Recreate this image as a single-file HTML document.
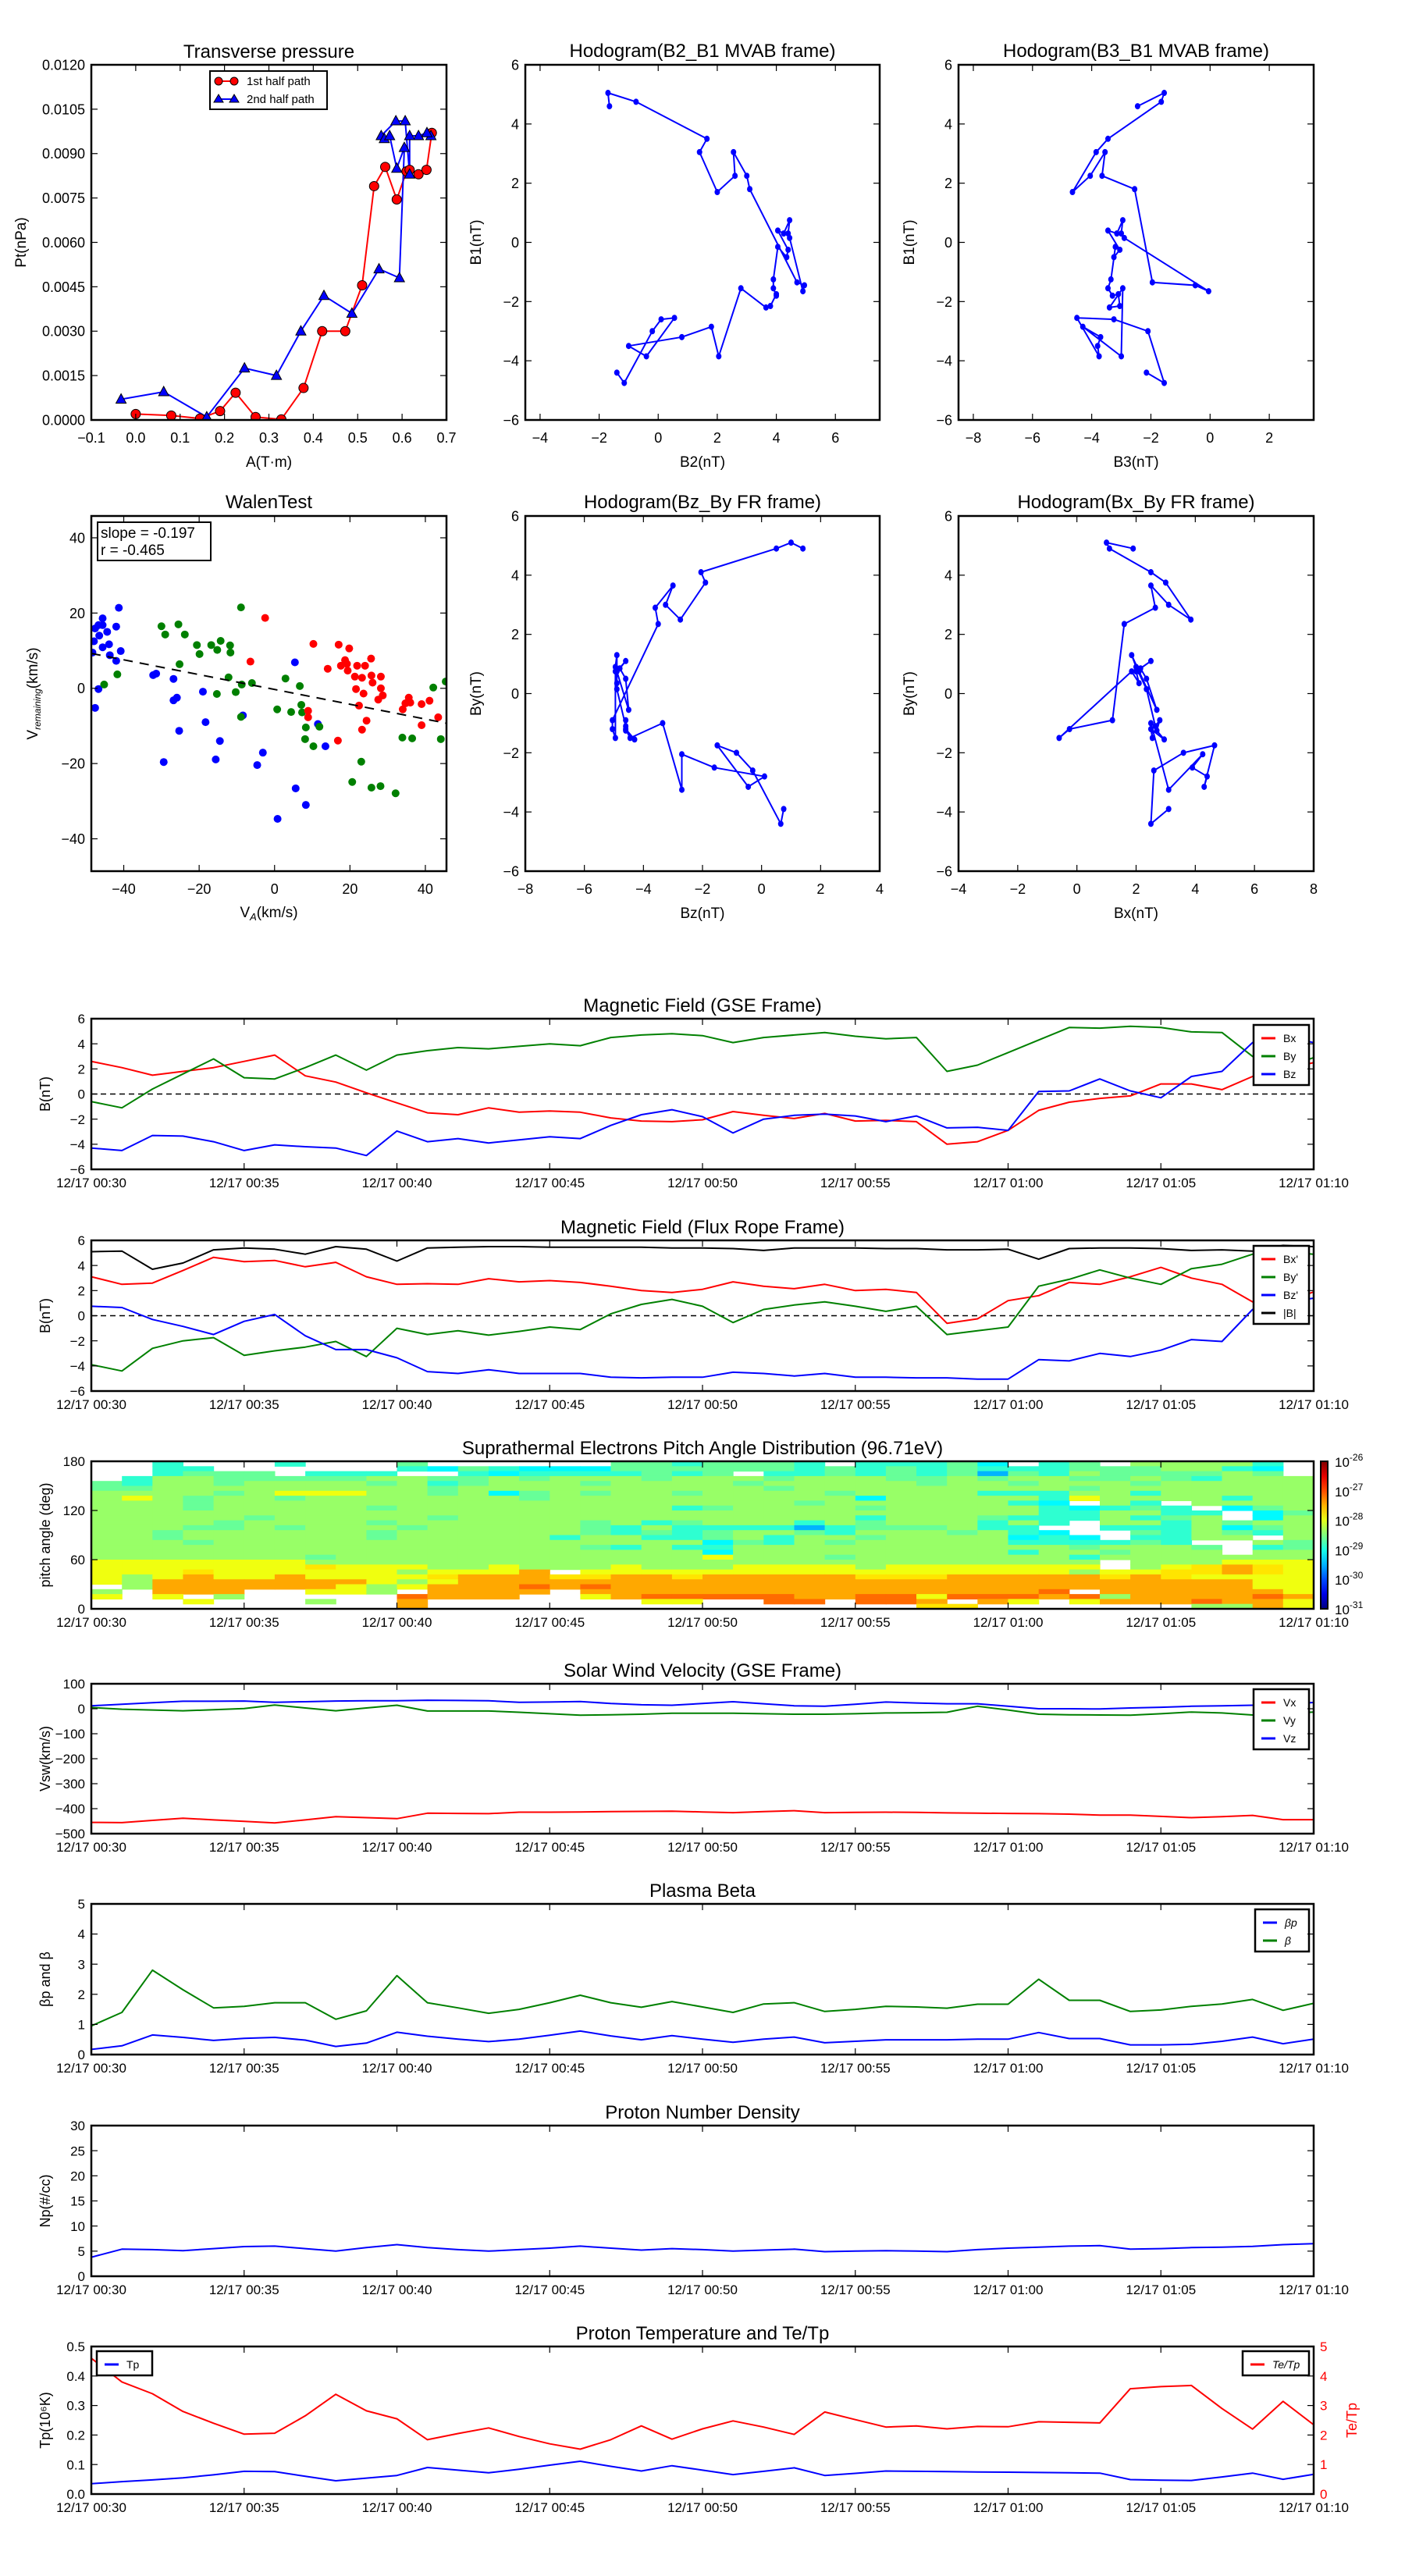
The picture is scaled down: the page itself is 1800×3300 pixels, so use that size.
<!DOCTYPE html>
<html><head><meta charset="utf-8"><title>Flux rope analysis</title>
<style>
html,body{margin:0;padding:0;background:#fff;}
svg{display:block;font-family:"Liberation Sans","DejaVu Sans",sans-serif;}
</style></head>
<body>
<svg id="chart" width="1800" height="3300" viewBox="0 0 1800 3300" xmlns="http://www.w3.org/2000/svg"><rect x="0" y="0" width="1800" height="3300" fill="#fff"/></svg>
<script>
// ---------------- data ----------------
const tpA1=[0.0,0.08,0.145,0.19,0.225,0.27,0.328,0.378,0.42,0.472,0.51,0.537,0.562,0.588,0.61,0.617,0.637,0.655,0.667];
const tpP1=[0.0002,0.00015,0.00005,0.0003,0.00092,0.0001,0.00002,0.00108,0.003,0.003,0.00455,0.0079,0.00855,0.00745,0.0084,0.00845,0.0083,0.00845,0.0097];
const tpA2=[0.665,0.656,0.637,0.617,0.617,0.607,0.586,0.553,0.56,0.572,0.588,0.605,0.594,0.548,0.487,0.424,0.372,0.317,0.245,0.16,0.063,-0.033];
const tpP2=[0.0096,0.0097,0.0096,0.0096,0.0083,0.0101,0.0101,0.0096,0.0095,0.0096,0.0085,0.0092,0.0048,0.0051,0.0036,0.0042,0.003,0.0015,0.00175,0.0001,0.00095,0.0007];

const mvB1=[4.6,5.05,4.75,3.5,3.05,1.7,2.25,3.05,2.25,1.8,-1.35,-1.45,-1.65,0.15,0.3,0.75,0.3,0.4,-0.25,-0.5,-0.15,-1.25,-1.55,-1.8,-1.75,-2.15,-2.2,-1.55,-3.85,-2.85,-3.2,-3.5,-3.85,-2.55,-2.6,-3.0,-4.75,-4.4];
const mvB2=[-1.65,-1.7,-0.75,1.65,1.4,2.0,2.6,2.55,3.0,3.1,4.7,4.95,4.9,4.45,4.4,4.45,4.25,4.05,4.4,4.35,4.05,3.9,3.9,4.0,4.0,3.8,3.65,2.8,2.05,1.8,0.8,-1.0,-0.4,0.55,0.1,-0.2,-1.15,-1.4];
const mvB3=[-2.45,-1.55,-1.65,-3.45,-3.85,-4.65,-4.05,-3.55,-3.65,-2.55,-1.95,-0.5,-0.05,-2.9,-3.0,-2.95,-3.15,-3.45,-3.05,-3.25,-3.2,-3.35,-3.45,-3.3,-3.1,-3.05,-3.4,-2.95,-3.0,-4.3,-3.7,-3.8,-3.75,-4.5,-3.25,-2.1,-1.55,-2.15];

const walenBlueX=[-47.6,-46.7,-47.9,-45.6,-45.6,-46.5,-44.4,-45.6,-43.9,-43.7,-42,-41.3,-40.8,-42,-48.3,-46.7,-47.6,-32.2,-31.4,-26.8,-26.8,-25.9,-25.3,-29.4,-19,-18.3,-14.5,-15.6,-8.4,-4.6,-3.1,0.8,5.4,5.6,8.3,11.5,13.5];
const walenBlueY=[15.9,16.8,12.5,18.6,16.8,14,15,10.9,11.7,8.8,16.4,21.4,9.9,7.3,9.5,-0.2,-5.2,3.5,3.9,2.5,-3.2,-2.5,-11.3,-19.6,-0.9,-9,-14,-18.9,-7.2,-20.4,-17.1,-34.7,6.9,-26.6,-31,-9.5,-15.4];
const walenGreenX=[-8.9,-30,-29,-25.5,-23.8,-25.2,-20.6,-19.9,-16.8,-15.2,-14.3,-11.8,-11.7,-12.2,-15.3,-10.3,-8.7,-6,-8.9,-41.7,-45.2,0.7,2.9,4.4,6.7,7.1,7.3,8.3,11.9,8.1,10.3,23,20.6,25.7,28.1,32.1,33.9,36.5,42.1,45.4,44.1];
const walenGreenY=[21.5,16.5,14.3,17,14.3,6.4,11.5,9.1,11.5,10.2,12.6,11.4,9.5,2.9,-1.5,-1,1,1.4,-7.6,3.7,1,-5.6,2.6,-6.3,0.6,-4.4,-6.4,-10.4,-10.2,-13.5,-15.4,-19.5,-24.9,-26.4,-26,-27.9,-13.1,-13.3,0.2,1.8,-13.5];
const walenRedX=[-2.5,-6.4,10.3,17,19.8,14.1,17.6,18.7,19.2,19.4,21.9,24,25.6,21.3,23.2,25.7,28.2,21.6,23.6,26,28.2,28.7,27.5,22.4,8.9,8.9,24.4,23.2,16.8,34,34.7,35.6,36,39,41.1,39,43.4];
const walenRedY=[18.7,7.1,11.8,11.6,10.6,5.2,6,7.5,6.5,4.7,6,6,7.9,3.1,2.8,3.4,3.1,-0.2,-1.4,1.5,0,-1.9,-3,-4.6,-6,-7.7,-8.6,-11,-13.9,-5.6,-4,-2.5,-3.8,-4.2,-3.3,-9.8,-7.7];
const walenSlope=-0.197, walenIntercept=-0.3;

const timeTicks=['12/17 00:30','12/17 00:35','12/17 00:40','12/17 00:45','12/17 00:50','12/17 00:55','12/17 01:00','12/17 01:05','12/17 01:10'];
const gseBx=[2.6,2.1,1.5,1.8,2.1,2.6,3.1,1.45,0.95,0.1,-0.7,-1.5,-1.65,-1.1,-1.45,-1.35,-1.45,-1.9,-2.15,-2.2,-2.05,-1.4,-1.7,-1.95,-1.55,-2.15,-2.1,-2.2,-4.0,-3.8,-2.9,-1.3,-0.65,-0.35,-0.15,0.8,0.8,0.35,1.4,2.0,2.5];
const gseBy=[-0.6,-1.1,0.4,1.6,2.8,1.3,1.2,2.1,3.1,1.9,3.1,3.45,3.7,3.6,3.8,4.0,3.85,4.5,4.7,4.8,4.65,4.1,4.5,4.7,4.9,4.6,4.4,4.5,1.8,2.3,3.3,4.3,5.3,5.25,5.4,5.3,4.95,4.9,3.0,2.1,2.9];
const gseBz=[-4.3,-4.5,-3.3,-3.35,-3.8,-4.5,-4.05,-4.2,-4.3,-4.9,-2.95,-3.8,-3.55,-3.9,-3.65,-3.4,-3.55,-2.5,-1.65,-1.25,-1.8,-3.1,-2.0,-1.7,-1.6,-1.75,-2.2,-1.75,-2.7,-2.65,-2.9,0.2,0.25,1.2,0.25,-0.3,1.4,1.8,4.1,4.6,4.1];
const frBx=[3.1,2.5,2.6,3.6,4.65,4.3,4.4,3.9,4.25,3.1,2.5,2.55,2.5,2.95,2.7,2.8,2.65,2.35,2.0,1.85,2.1,2.7,2.35,2.15,2.5,2.0,2.1,1.85,-0.6,-0.25,1.2,1.6,2.65,2.5,3.1,3.85,3.0,2.5,1.1,1.0,1.9];
const frBy=[-3.9,-4.4,-2.6,-2.0,-1.75,-3.15,-2.8,-2.5,-2.05,-3.25,-1.0,-1.5,-1.2,-1.55,-1.25,-0.9,-1.1,0.15,0.9,1.3,0.75,-0.55,0.5,0.85,1.1,0.75,0.35,0.75,-1.5,-1.2,-0.9,2.35,2.9,3.65,3.0,2.5,3.75,4.1,4.9,5.1,4.9];
const frBz=[0.75,0.65,-0.3,-0.85,-1.5,-0.45,0.1,-1.6,-2.7,-2.7,-3.35,-4.45,-4.6,-4.3,-4.6,-4.6,-4.6,-4.9,-4.95,-4.9,-4.9,-4.5,-4.6,-4.8,-4.6,-4.9,-4.9,-4.95,-4.95,-5.05,-5.05,-3.5,-3.6,-3.0,-3.25,-2.75,-1.9,-2.05,0.5,1.0,1.4];
const frBt=[5.1,5.15,3.7,4.2,5.25,5.4,5.3,4.9,5.5,5.3,4.35,5.4,5.45,5.5,5.5,5.45,5.45,5.45,5.45,5.4,5.4,5.35,5.2,5.4,5.4,5.4,5.35,5.35,5.25,5.25,5.3,4.5,5.35,5.4,5.4,5.35,5.2,5.25,5.15,5.6,5.5];

// pitch angle distribution: 30 rows (top = 174-180 deg), 40 time columns; letter = flux level
const padRows=[
"..t...t...g......ggtgggt.tttgc.tg.llllt.",
"..tt......tcgtcccggggggtgtgtgtttggglltc.",
"..tggg.ttt..tcttttgtg.ttgtgtgbgtlgggglg.",
".tllgggggllgglglllglllglllgglgllgglgtlll",
"gtllgllllgltglllgllllglllllgllglllgllll",
"gglllllllllgllllllllllglllllllllglllllll",
"llllglyyyllglcglgllgllllglllltttlltllll",
"lylgllglllllllgllllllllllcllllltylllltll",
"lllglllllllllllllllllllglllllltc.lt.lll",
"lllglllllgllllllllltgllllgllllltctgt.cgl",
"lllllllllllllllllllllllllllllllttlltt.cgl",
"lllllglllllgllllllllllllltlllgtttltgl.cl",
"llllgllllgllllllgltgllltlgllltlt.lltlgl",
"lllgglglllglllllgtlttttbtgggltt..tttlcgl",
"llgllllllgllllllgtgtgllgtlllgltc..gtlgtl",
"llgllllllgllllltllttgltllgllllctc.ttll.l",
"lllgllllllllllllllllcgtlglllllttttgt..lgl",
"llllllllllllllllgtlttlllllllllllglllg.tgl",
"llllllllllllllllllllcllllllllltllglll.ll",
"lllllllgllllllllllllylllgllllllltlllllll",
"yyyyyyyllllllllllllllllllllllllll.lllyyy",
"yyyyyyyYyyyllylllylllyyyylyyyyyyy.lyYoYy",
"yyyYyyyyyylyyyo.yyyyyyyyyyyyyyyylyyYYoYy",
"ylyoyyoyyyyYoooYYooYoooooYYYoooooYoYyyyy",
"yloooooooylyooooooooooooooooooooooooooyy",
".looooooylyooororoooooooooooooooooooooyy",
"l.ooo..yyl.oooo.ooooooooooooooor.ooooooy",
"y.y.l.....rooo..yorrrrroorryrrrorlooooro",
"...y...l..o.......yy..rr.rro.oy.yooorooy",
"..........o................YY.......lloy"];
const padLevels={b:-29.5,c:-29.15,t:-28.9,g:-28.62,l:-28.38,y:-27.95,Y:-27.75,o:-27.45,r:-27.15};

const vx=[-455,-456,-447,-438,-445,-451,-457,-445,-432,-436,-440,-418,-419,-420,-414,-414,-413,-412,-411,-410,-413,-416,-412,-408,-416,-415,-414,-415,-417,-418,-419,-420,-422,-426,-426,-431,-436,-432,-427,-444,-444];
const vy=[5,-2,-5,-8,-4,1,15,3,-8,3,14,-9,-9,-9,-14,-20,-26,-24,-22,-18,-18,-18,-20,-22,-22,-20,-17,-16,-14,10,-5,-22,-24,-25,-26,-20,-13,-17,-25,-20,-13];
const vz=[12,18,24,30,30,31,26,28,31,32,32,34,33,32,26,27,29,21,16,14,21,28,20,12,10,18,27,23,20,20,10,0,0,-1,3,6,10,12,14,18,25];
const betaP=[0.17,0.29,0.65,0.57,0.47,0.54,0.57,0.48,0.27,0.38,0.74,0.61,0.51,0.43,0.51,0.64,0.78,0.62,0.49,0.63,0.51,0.41,0.51,0.58,0.39,0.44,0.49,0.49,0.49,0.51,0.51,0.73,0.53,0.53,0.32,0.32,0.34,0.44,0.58,0.36,0.51];
const betaT=[0.95,1.4,2.8,2.15,1.55,1.6,1.72,1.72,1.17,1.45,2.62,1.72,1.55,1.37,1.5,1.72,1.97,1.72,1.57,1.76,1.58,1.4,1.68,1.72,1.43,1.5,1.6,1.58,1.54,1.67,1.67,2.5,1.8,1.8,1.43,1.48,1.6,1.68,1.83,1.47,1.7];
const np=[3.8,5.4,5.3,5.1,5.5,5.9,6.0,5.5,5.0,5.7,6.3,5.7,5.3,5.0,5.3,5.6,6.0,5.6,5.2,5.5,5.3,5.0,5.2,5.4,4.9,5.0,5.1,5.0,4.9,5.3,5.6,5.8,6.0,6.1,5.4,5.5,5.7,5.8,5.95,6.3,6.5];
const tp=[0.035,0.042,0.048,0.055,0.065,0.077,0.076,0.06,0.045,0.054,0.063,0.09,0.081,0.072,0.084,0.098,0.111,0.094,0.078,0.096,0.081,0.066,0.077,0.089,0.063,0.07,0.078,0.077,0.076,0.075,0.074,0.073,0.072,0.071,0.049,0.047,0.046,0.058,0.071,0.05,0.067];
const teTp=[4.6,3.8,3.4,2.8,2.4,2.03,2.06,2.65,3.38,2.82,2.55,1.84,2.05,2.24,1.95,1.7,1.52,1.84,2.31,1.86,2.21,2.48,2.27,2.02,2.78,2.52,2.27,2.31,2.21,2.29,2.28,2.45,2.43,2.41,3.57,3.64,3.68,2.9,2.2,3.14,2.35];

// ---------------- helpers ----------------
const NS='http://www.w3.org/2000/svg';
const svg=document.getElementById('chart');
function el(tag,attrs,parent,name){
  const e=document.createElementNS(NS,tag);
  for(const k in attrs) e.setAttribute(k,attrs[k]);
  
  
  (parent||svg).appendChild(e);
  return e;
}
function txt(x,y,s,size,anchor,name,extra,parent){
  const a=Object.assign({x:x,y:y,'font-size':size,'text-anchor':anchor||'middle',fill:'#000'},extra||{});
  const t=el('text',a,parent,name);
  t.textContent=s;
  return t;
}
function lin(d0,d1,r0,r1){return v=>r0+(v-d0)*(r1-r0)/(d1-d0);}
function fmt(v,dec){const s=Math.abs(v).toFixed(dec);return (v<0?'\u2212':'')+s;}
let clipId=0;
function frame(x0,y0,x1,y1,name){
  const g=el('g',{},svg,name);
  const id='clip'+(clipId++);
  const cp=el('clipPath',{id:id},g,name+'-clip');
  el('rect',{x:x0,y:y0,width:x1-x0,height:y1-y0},cp,name+'-clip-rect');
  const inner=el('g',{'clip-path':'url(#'+id+')'},g,name+'-plot-area');
  return {g:g,inner:inner};
}
function border(g,x0,y0,x1,y1,name){
  el('rect',{x:x0,y:y0,width:x1-x0,height:y1-y0,fill:'none',stroke:'#000','stroke-width':2.5},g,name+'-border');
}
function xTicks(g,vals,labels,sx,y0,y1,size,base,name){
  vals.forEach((v,i)=>{
    const x=sx(v);
    el('line',{x1:x,y1:y1,x2:x,y2:y1-8,stroke:'#000','stroke-width':1.2},g,name+'-xtick');
    el('line',{x1:x,y1:y0,x2:x,y2:y0+8,stroke:'#000','stroke-width':1.2},g,name+'-xtick-top');
    txt(x,y1+base,labels[i],size,'middle',name+'-xtick-label',{},g);
  });
}
function yTicks(g,vals,labels,sy,x0,x1,size,name,skipRight){
  vals.forEach((v,i)=>{
    const y=sy(v);
    el('line',{x1:x0,y1:y,x2:x0+8,y2:y,stroke:'#000','stroke-width':1.2},g,name+'-ytick');
    if(!skipRight) el('line',{x1:x1,y1:y,x2:x1-8,y2:y,stroke:'#000','stroke-width':1.2},g,name+'-ytick-right');
    txt(x0-8,y+size*0.36,labels[i],size,'end',name+'-ytick-label',{},g);
  });
}
function poly(parent,xs,ys,sx,sy,color,w,name,dash){
  const pts=xs.map((x,i)=>sx(x).toFixed(1)+','+sy(ys[i]).toFixed(1)).join(' ');
  const a={points:pts,fill:'none',stroke:color,'stroke-width':w,'stroke-linejoin':'round'};
  if(dash) a['stroke-dasharray']=dash;
  return el('polyline',a,parent,name);
}
function ylabel(x,y,s,size,name,parent,color){
  const t=txt(x,y,s,size,'middle',name,{transform:'rotate(-90 '+x+' '+y+')',fill:color||'#000'},parent);
  return t;
}
function jet(f){
  const c=v=>Math.round(255*Math.max(0,Math.min(1,v)));
  return 'rgb('+c(1.5-Math.abs(4*f-3))+','+c(1.5-Math.abs(4*f-2))+','+c(1.5-Math.abs(4*f-1))+')';
}

// ---------------- Transverse pressure ----------------
(function(){
  const X0=117,X1=572,Y0=83,Y1=538;
  const sx=lin(-0.1,0.7,X0,X1), sy=lin(0,0.012,Y1,Y0);
  const f=frame(X0,Y0,X1,Y1,'transverse-pressure-panel');
  txt((X0+X1)/2,74,'Transverse pressure',24,'middle','transverse-pressure-title',{},f.g);
  poly(f.inner,tpA1,tpP1,sx,sy,'#f00',2,'first-half-path-line');
  poly(f.inner,tpA2,tpP2,sx,sy,'#00f',2,'second-half-path-line');
  tpA1.forEach((a,i)=>{el('circle',{cx:sx(a),cy:sy(tpP1[i]),r:6,fill:'#f00',stroke:'#000','stroke-width':1},f.inner,'first-half-point');});
  tpA2.forEach((a,i)=>{const x=sx(a),y=sy(tpP2[i]);
    el('polygon',{points:(x)+','+(y-7)+' '+(x-6.5)+','+(y+5)+' '+(x+6.5)+','+(y+5),fill:'#00f',stroke:'#000','stroke-width':1},f.inner,'second-half-point');});
  border(f.g,X0,Y0,X1,Y1,'transverse-pressure');
  const xv=[-0.1,0,0.1,0.2,0.3,0.4,0.5,0.6,0.7];
  xTicks(f.g,xv,xv.map(v=>fmt(v,1)),sx,Y0,Y1,18,29,'transverse-pressure');
  const yv=[0,0.0015,0.003,0.0045,0.006,0.0075,0.009,0.0105,0.012];
  yTicks(f.g,yv,yv.map(v=>v.toFixed(4)),sy,X0,X1,18,'transverse-pressure');
  txt((X0+X1)/2,598,'A(T\u00b7m)',19,'middle','transverse-pressure-x-label',{},f.g);
  ylabel(33,(Y0+Y1)/2,'Pt(nPa)',19,'transverse-pressure-y-label',f.g);
  const lg=el('g',{},f.g,'transverse-pressure-legend');
  el('rect',{x:269,y:91,width:150,height:49,fill:'#fff',stroke:'#000','stroke-width':2},lg,'legend-box');
  el('line',{x1:280,y1:104,x2:300,y2:104,stroke:'#f00','stroke-width':2},lg,'legend-first-half-line');
  el('circle',{cx:280,cy:104,r:5,fill:'#f00',stroke:'#000'},lg,'legend-first-half-marker');
  el('circle',{cx:300,cy:104,r:5,fill:'#f00',stroke:'#000'},lg,'legend-first-half-marker');
  txt(316,109,'1st half path',15,'start','legend-first-half-label',{},lg);
  el('line',{x1:280,y1:127,x2:300,y2:127,stroke:'#00f','stroke-width':2},lg,'legend-second-half-line');
  el('polygon',{points:'280,121 274,131 286,131',fill:'#00f',stroke:'#000'},lg,'legend-second-half-marker');
  el('polygon',{points:'300,121 294,131 306,131',fill:'#00f',stroke:'#000'},lg,'legend-second-half-marker');
  txt(316,132,'2nd half path',15,'start','legend-second-half-label',{},lg);
})();

// ---------------- hodograms ----------------
function hodogram(X0,X1,Y0,Y1,xd,yd,xs,ys,xt,yt,title,xl,yl,name){
  const sx=lin(xd[0],xd[1],X0,X1), sy=lin(yd[0],yd[1],Y1,Y0);
  const f=frame(X0,Y0,X1,Y1,name);
  txt((X0+X1)/2,Y0-10,title,24,'middle',name+'-title',{},f.g);
  poly(f.inner,xs,ys,sx,sy,'#00f',2,name+'-path');
  xs.forEach((v,i)=>{el('ellipse',{cx:sx(v),cy:sy(ys[i]),rx:3.5,ry:4,fill:'#00f'},f.inner,name+'-point');});
  border(f.g,X0,Y0,X1,Y1,name);
  xTicks(f.g,xt,xt.map(v=>fmt(v,0)),sx,Y0,Y1,18,29,name);
  yTicks(f.g,yt,yt.map(v=>fmt(v,0)),sy,X0,X1,18,name);
  txt((X0+X1)/2,Y1+60,xl,19,'middle',name+'-x-label',{},f.g);
  ylabel(X0-57,(Y0+Y1)/2,yl,19,name+'-y-label',f.g);
}
const yt6=[-6,-4,-2,0,2,4,6];
hodogram(673,1127,83,538,[-4.5,7.5],[-6,6],mvB2,mvB1,[-4,-2,0,2,4,6],yt6,'Hodogram(B2_B1 MVAB frame)','B2(nT)','B1(nT)','hodogram-b2-b1');
hodogram(1228,1683,83,538,[-8.5,3.5],[-6,6],mvB3,mvB1,[-8,-6,-4,-2,0,2],yt6,'Hodogram(B3_B1 MVAB frame)','B3(nT)','B1(nT)','hodogram-b3-b1');
hodogram(673,1127,661,1116,[-8,4],[-6,6],frBz,frBy,[-8,-6,-4,-2,0,2,4],yt6,'Hodogram(Bz_By FR frame)','Bz(nT)','By(nT)','hodogram-bz-by');
hodogram(1228,1683,661,1116,[-4,8],[-6,6],frBx,frBy,[-4,-2,0,2,4,6,8],yt6,'Hodogram(Bx_By FR frame)','Bx(nT)','By(nT)','hodogram-bx-by');

// ---------------- Walen test ----------------
(function(){
  const X0=117,X1=572,Y0=661,Y1=1116;
  const sx=lin(-48.6,45.6,X0,X1), sy=lin(-48.6,45.8,Y1,Y0);
  const f=frame(X0,Y0,X1,Y1,'walen-test-panel');
  txt((X0+X1)/2,651,'WalenTest',24,'middle','walen-test-title',{},f.g);
  const groups=[[walenBlueX,walenBlueY,'#00f','walen-blue-point'],[walenGreenX,walenGreenY,'#008000','walen-green-point'],[walenRedX,walenRedY,'#f00','walen-red-point']];
  groups.forEach(gr=>{gr[0].forEach((v,i)=>{el('circle',{cx:sx(v),cy:sy(gr[1][i]),r:5,fill:gr[2]},f.inner,gr[3]);});});
  const fx=[-48.6,45.6];
  poly(f.inner,fx,fx.map(v=>walenSlope*v+walenIntercept),sx,sy,'#000',2,'walen-fit-line','12,9');
  border(f.g,X0,Y0,X1,Y1,'walen-test');
  const xv=[-40,-20,0,20,40];
  xTicks(f.g,xv,xv.map(v=>fmt(v,0)),sx,Y0,Y1,18,29,'walen-test');
  yTicks(f.g,xv,xv.map(v=>fmt(v,0)),sy,X0,X1,18,'walen-test');
  const xl=txt((X0+X1)/2,1175,'V',19,'middle','walen-x-label',{},f.g);
  const s1=document.createElementNS(NS,'tspan'); s1.setAttribute('font-size','13'); s1.setAttribute('font-style','italic'); s1.setAttribute('dy','4'); s1.textContent='A'; xl.appendChild(s1);
  const s2=document.createElementNS(NS,'tspan'); s2.setAttribute('dy','-4'); s2.textContent='(km/s)'; xl.appendChild(s2);
  const yl=ylabel(48,(Y0+Y1)/2,'V',19,'walen-y-label',f.g);
  const s3=document.createElementNS(NS,'tspan'); s3.setAttribute('font-size','12'); s3.setAttribute('font-style','italic'); s3.setAttribute('dy','4'); s3.textContent='remaining'; yl.appendChild(s3);
  const s4=document.createElementNS(NS,'tspan'); s4.setAttribute('dy','-4'); s4.textContent='(km/s)'; yl.appendChild(s4);
  el('rect',{x:125,y:669,width:145,height:49,fill:'#fff',stroke:'#000','stroke-width':2},f.g,'walen-stats-box');
  txt(129,689,'slope = -0.197',19,'start','walen-slope-text',{},f.g);
  txt(129,711,'r = -0.465',19,'start','walen-r-text',{},f.g);
})();

// ---------------- time series panels ----------------
const TX0=117, TX1=1683;
const tIdx=[]; for(let i=0;i<41;i++) tIdx.push(i);
const sxT=lin(0,40,TX0,TX1);
function tsPanel(Y0,Y1,yd,yt,ylabels,title,yl,name){
  const sy=lin(yd[0],yd[1],Y1,Y0);
  const f=frame(TX0,Y0,TX1,Y1,name);
  txt((TX0+TX1)/2,Y0-9,title,24,'middle',name+'-title',{},f.g);
  return {f:f,sy:sy,finish:function(skipRight){
    border(f.g,TX0,Y0,TX1,Y1,name);
    xTicks(f.g,[0,5,10,15,20,25,30,35,40],timeTicks,sxT,Y0,Y1,17,23,name);
    yTicks(f.g,yt,ylabels,sy,TX0,TX1,17,name,skipRight);
    ylabel(64,(Y0+Y1)/2,yl,18,name+'-y-label',f.g);
  }};
}
function legend(parent,x,y,w,entries,name){
  const g=el('g',{},parent,name);
  el('rect',{x:x,y:y,width:w,height:entries.length*23+8,fill:'#fff',stroke:'#000','stroke-width':2.5},g,name+'-box');
  entries.forEach((e,i)=>{
    const yy=y+17+i*23;
    el('line',{x1:x+10,y1:yy,x2:x+28,y2:yy,stroke:e[1],'stroke-width':3},g,name+'-swatch');
    const t=txt(x+38,yy+5,e[0],14,'start',name+'-label',e[2]||{},g);
  });
  return g;
}

(function(){
  const p=tsPanel(1305,1498,[-6,6],[-6,-4,-2,0,2,4,6],['\u22126','\u22124','\u22122','0','2','4','6'],'Magnetic Field (GSE Frame)','B(nT)','gse-field-panel');
  el('line',{x1:TX0,y1:p.sy(0),x2:TX1,y2:p.sy(0),stroke:'#000','stroke-width':1.5,'stroke-dasharray':'7,5'},p.f.inner,'zero-line');
  poly(p.f.inner,tIdx,gseBx,sxT,p.sy,'#f00',2,'gse-bx-line');
  poly(p.f.inner,tIdx,gseBy,sxT,p.sy,'#008000',2,'gse-by-line');
  poly(p.f.inner,tIdx,gseBz,sxT,p.sy,'#00f',2,'gse-bz-line');
  legend(p.f.g,1606,1313,71,[['Bx','#f00'],['By','#008000'],['Bz','#00f']],'gse-legend');
  p.finish();
})();
(function(){
  const p=tsPanel(1589,1782,[-6,6],[-6,-4,-2,0,2,4,6],['\u22126','\u22124','\u22122','0','2','4','6'],'Magnetic Field (Flux Rope Frame)','B(nT)','fr-field-panel');
  el('line',{x1:TX0,y1:p.sy(0),x2:TX1,y2:p.sy(0),stroke:'#000','stroke-width':1.5,'stroke-dasharray':'7,5'},p.f.inner,'zero-line');
  poly(p.f.inner,tIdx,frBx,sxT,p.sy,'#f00',2,'fr-bx-line');
  poly(p.f.inner,tIdx,frBy,sxT,p.sy,'#008000',2,'fr-by-line');
  poly(p.f.inner,tIdx,frBz,sxT,p.sy,'#00f',2,'fr-bz-line');
  poly(p.f.inner,tIdx,frBt,sxT,p.sy,'#000',2,'fr-bt-line');
  legend(p.f.g,1606,1596,71,[["Bx'",'#f00'],["By'",'#008000'],["Bz'",'#00f'],['|B|','#000']],'fr-legend');
  p.finish();
})();
(function(){
  const Y0=1872,Y1=2061;
  const p=tsPanel(Y0,Y1,[0,180],[0,60,120,180],['0','60','120','180'],'Suprathermal Electrons Pitch Angle Distribution (96.71eV)','pitch angle (deg)','pad-panel');
  const nr=padRows.length;
  padRows.forEach((row,ri)=>{
    const bin=nr-1-ri;
    for(let c=0;c<40;c++){
      const ch=row.charAt(c)||'l';
      if(ch==='.') continue;
      const lv=padLevels[ch];
      if(lv===undefined) continue;
      const x=sxT(c), x2=sxT(c+1), y=p.sy((bin+1)*6), y2=p.sy(bin*6);
      el('rect',{x:x.toFixed(1),y:y.toFixed(1),width:(x2-x+0.6).toFixed(1),height:(y2-y+0.6).toFixed(1),fill:jet((lv+31)/5)},p.f.inner,'pad-cell');
    }
  });
  p.finish();
  const cb=el('g',{},svg,'pad-colorbar');
  const defs=el('defs',{},cb,'colorbar-defs');
  const lg=el('linearGradient',{id:'jetgrad',x1:0,y1:1,x2:0,y2:0},defs,'colorbar-gradient');
  for(let i=0;i<=10;i++){el('stop',{offset:(i/10),'stop-color':jet(i/10)},lg,'gradient-stop');}
  el('rect',{x:1692,y:Y0,width:9,height:Y1-Y0,fill:'url(#jetgrad)',stroke:'#000','stroke-width':2},cb,'colorbar-rect');
  const cbs=lin(-31,-26,Y1,Y0);
  [-31,-30,-29,-28,-27,-26].forEach(e=>{
    const t=txt(1710,cbs(e)+7,'10',17,'start','colorbar-label',{},cb);
    const sp=document.createElementNS(NS,'tspan'); sp.setAttribute('font-size','12'); sp.setAttribute('dy','-8'); sp.textContent='-'+Math.abs(e); t.appendChild(sp);
  });
})();
(function(){
  const yv=[-500,-400,-300,-200,-100,0,100];
  const p=tsPanel(2157,2349,[-500,100],yv,yv.map(v=>fmt(v,0)),'Solar Wind Velocity (GSE Frame)','Vsw(km/s)','velocity-panel');
  poly(p.f.inner,tIdx,vx,sxT,p.sy,'#f00',2,'vx-line');
  poly(p.f.inner,tIdx,vy,sxT,p.sy,'#008000',2,'vy-line');
  poly(p.f.inner,tIdx,vz,sxT,p.sy,'#00f',2,'vz-line');
  legend(p.f.g,1606,2164,71,[['Vx','#f00'],['Vy','#008000'],['Vz','#00f']],'velocity-legend');
  p.finish();
})();
(function(){
  const yv=[0,1,2,3,4,5];
  const p=tsPanel(2439,2632,[0,5],yv,yv.map(String),'Plasma Beta','\u03b2p and \u03b2','beta-panel');
  poly(p.f.inner,tIdx,betaP,sxT,p.sy,'#00f',2,'beta-p-line');
  poly(p.f.inner,tIdx,betaT,sxT,p.sy,'#008000',2,'beta-line');
  legend(p.f.g,1608,2446,69,[['\u03b2p','#00f',{'font-style':'italic'}],['\u03b2','#008000',{'font-style':'italic'}]],'beta-legend');
  p.finish();
})();
(function(){
  const yv=[0,5,10,15,20,25,30];
  const p=tsPanel(2723,2916,[0,30],yv,yv.map(String),'Proton Number Density','Np(#/cc)','density-panel');
  poly(p.f.inner,tIdx,np,sxT,p.sy,'#00f',2,'density-line');
  p.finish();
})();
(function(){
  const Y0=3006,Y1=3195;
  const yv=[0,0.1,0.2,0.3,0.4,0.5];
  const p=tsPanel(Y0,Y1,[0,0.5],yv,yv.map(v=>v.toFixed(1)),'Proton Temperature and Te/Tp','Tp(10\u2076K)','temperature-panel');
  const sr=lin(0,5,Y1,Y0);
  poly(p.f.inner,tIdx,tp,sxT,p.sy,'#00f',2,'tp-line');
  poly(p.f.inner,tIdx,teTp,sxT,sr,'#f00',2,'te-tp-line');
  legend(p.f.g,124,3012,71,[['Tp','#00f']],'tp-legend');
  legend(p.f.g,1592,3012,85,[['Te/Tp','#f00',{'font-style':'italic'}]],'te-tp-legend');
  p.finish(true);
  [0,1,2,3,4,5].forEach(v=>{
    el('line',{x1:TX1,y1:sr(v),x2:TX1-8,y2:sr(v),stroke:'#000','stroke-width':1.2},p.f.g,'right-ytick');
    txt(TX1+8,sr(v)+6,String(v),17,'start','right-ytick-label',{fill:'#f00'},p.f.g);
  });
  ylabel(1738,(Y0+Y1)/2,'Te/Tp',18,'right-y-label',p.f.g,'#f00');
})();
</script>
</body></html>
